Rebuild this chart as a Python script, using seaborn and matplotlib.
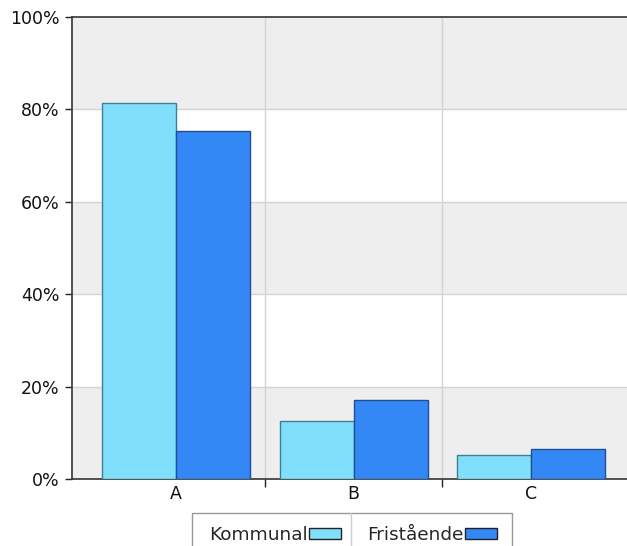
import matplotlib
matplotlib.use("Agg")
import matplotlib.pyplot as plt
import seaborn as sns
import pandas as pd
from matplotlib.patches import Patch, Rectangle
from matplotlib.lines import Line2D
from matplotlib.ticker import FuncFormatter, FixedLocator

categories = ["A", "B", "C"]
series = ["Kommunal", "Fristående"]
kommunal = [81.3, 12.6, 5.2]
fristaende = [75.4, 17.1, 6.6]
yticks = [0, 20, 40, 60, 80, 100]

colors = {"Kommunal": "#80DFFA", "Fristående": "#3388F5"}
edges = {"Kommunal": "#3F7F93", "Fristående": "#1F4E96"}

df = pd.DataFrame({
    "cat": categories * 2,
    "series": ["Kommunal"] * 3 + ["Fristående"] * 3,
    "value": kommunal + fristaende,
})

sns.set_style("white")
plt.rcParams["font.family"] = ["DejaVu Sans"]

W, H = 627, 546
fig = plt.figure(figsize=(6.27, 5.46), dpi=100)
ax = fig.add_axes([72 / W, (H - 479) / H, (W - 72) / W, (479 - 17) / H])

# alternating background bands
for lo in (0, 40, 80):
    ax.axhspan(lo, lo + 20, color="#EEEEEE", zorder=0, lw=0)

sns.barplot(data=df, x="cat", y="value", hue="series", hue_order=series,
            palette=colors, width=0.834, ax=ax, zorder=3, legend=False,
            saturation=1)
for cont, s in zip(ax.containers, series):
    for p in cont:
        p.set_edgecolor(edges[s])
        p.set_linewidth(1.0)

ax.set_xlim(-0.586, 2.54)
ax.set_ylim(0, 100)
ax.set_xlabel("")
ax.set_ylabel("")

ax.yaxis.set_major_locator(FixedLocator(yticks))
ax.yaxis.set_major_formatter(FuncFormatter(lambda v, p: f"{int(v)}%"))
for y in yticks[1:-1]:
    ax.axhline(y, color="#D4D4D4", lw=1, zorder=1)
for xb in (0.5, 1.5):
    ax.axvline(xb, color="#D4D4D4", lw=1, zorder=1)

fs = 12.5
ax.tick_params(axis="y", which="major", direction="out", length=5, width=1,
               color="#222222", labelsize=fs, labelcolor="#111111", left=True, pad=4)
ax.tick_params(axis="x", which="major", length=0, labelsize=fs,
               labelcolor="#111111", pad=4)
ax.set_xticks([0, 1, 2])
ax.set_xticklabels(categories)
ax.set_xticks([0.5, 1.5], minor=True)
ax.tick_params(axis="x", which="minor", direction="out", length=6, width=1,
               color="#222222", bottom=True)

for side in ("left", "bottom", "top"):
    ax.spines[side].set_visible(True)
    ax.spines[side].set_color("#333333")
    ax.spines[side].set_linewidth(1.2)
ax.spines["right"].set_visible(False)

# legend frame (cut off by the figure bottom)
fig.add_artist(Rectangle((192 / W, -0.05), (512 - 192) / W, (H - 513) / H + 0.05,
                         transform=fig.transFigure, facecolor="white",
                         edgecolor="#999999", lw=1, zorder=5))
fig.add_artist(Line2D([351 / W, 351 / W], [0, (H - 513) / H],
                      color="#CCCCCC", lw=1, transform=fig.transFigure, zorder=6))

lfs = 13.3
handles = [Patch(facecolor=colors[s], edgecolor="#222222", linewidth=1) for s in series]
px = lfs * 100 / 72
leg = fig.legend(handles, series, loc="center left",
                 bbox_to_anchor=(209 / W, (H - 535) / H),
                 ncol=2, markerfirst=False, frameon=False,
                 fontsize=lfs, handlelength=32 / px, handleheight=9 / px,
                 handletextpad=0.05, columnspacing=1.45, borderpad=0,
                 borderaxespad=0)
leg.set_zorder(7)

fig.savefig("out.png", dpi=100)
